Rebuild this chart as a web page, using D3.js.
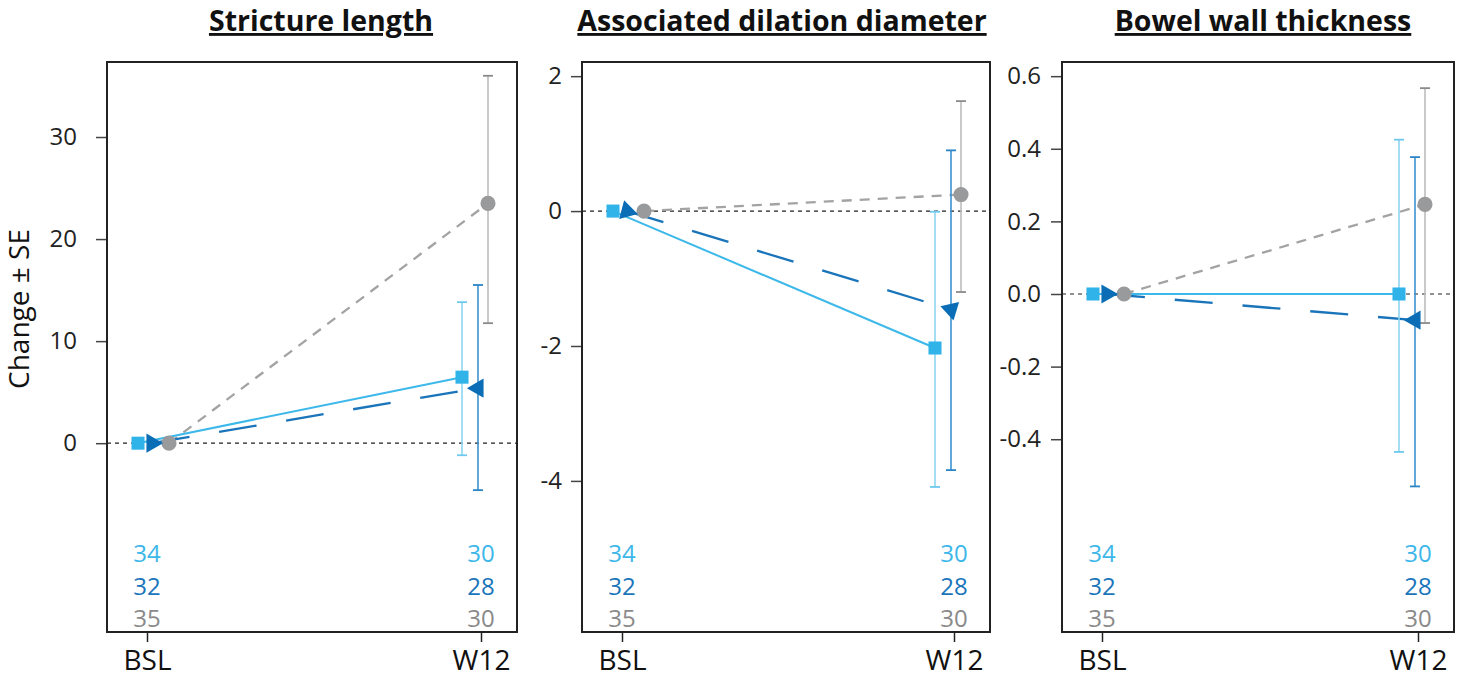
<!DOCTYPE html>
<html><head><meta charset="utf-8">
<script src="https://cdn.jsdelivr.net/npm/d3@7"></script>
<style>body{margin:0;background:#fff} text{font-family:"Open Sans",sans-serif}</style>
</head><body><svg id="c" width="1460" height="686"></svg>
<script>
// ---------- data ----------
const panelTitles = ["Stricture length", "Associated dilation diameter", "Bowel wall thickness"];
const timepoints = ["BSL", "W12"];
const seriesNames = ["Group A", "Group B", "Group C"]; // square, triangle, circle

// rows = series (square, triangle, circle), cols = timepoints (BSL, W12)
const lengthMean = [[0, 6.47], [0, 5.39], [0, 23.5]];
const lengthLow  = [[0, -1.18], [0, -4.6], [0, 11.76]];
const lengthHigh = [[0, 13.82], [0, 15.5], [0, 36.0]];

const dilationMean = [[0, -2.03], [0, -1.46], [0, 0.245]];
const dilationLow  = [[0, -4.09], [0, -3.84], [0, -1.2]];
const dilationHigh = [[0, -0.01], [0, 0.9], [0, 1.63]];

const thicknessMean = [[0, 0.0], [0, -0.072], [0, 0.247]];
const thicknessLow  = [[0, -0.435], [0, -0.53], [0, -0.08]];
const thicknessHigh = [[0, 0.425], [0, 0.377], [0, 0.567]];

const countsBSL = [34, 32, 35];
const countsW12 = [30, 28, 30];

const lengthTicks = [0, 10, 20, 30];
const dilationTicks = [2, 0, -2, -4];
const thicknessTicks = [0.6, 0.4, 0.2, 0.0, -0.2, -0.4];

// ---------- styles / layout ----------
const yDomains = [[-18.5, 37.35], [-6.24, 2.21], [-0.931, 0.639]];
const tickFormats = [d3.format("d"), d3.format("d"), d3.format(".1f")];
const tickPad = [19, 9, 10];
const panelX = [[107, 517], [582, 990], [1062, 1454]];
const titleShift = [9, -4, 5];
const topY = 62, bottomY = 632;
const dodge = [[-9, -19], [5, -3], [22, 7]]; // px per series per timepoint
const triRot = [[90, -90], [-15, 167], [90, -90]];
const markerColor = ["#2fb3e8", "#0a6db5", "#999a9c"];
const lineColor = ["#3db8ea", "#1a74ba", "#a3a3a3"];
const lineDash = [null, "38,30", "10,8"];
const barColor = ["#8dd5f3", "#3b92d0", "#bdbdbd"];
const capColor = ["#6ec9ef", "#2a84c6", "#8a8a8a"];
const countColor = ["#3db7e9", "#1a75bb", "#8a8a8a"];

const means = [lengthMean, dilationMean, thicknessMean];
const lows = [lengthLow, dilationLow, thicknessLow];
const highs = [lengthHigh, dilationHigh, thicknessHigh];
const ticks = [lengthTicks, dilationTicks, thicknessTicks];

const svg = d3.select("#c");

// y-axis title
svg.append("text")
  .attr("transform", "translate(29,309) rotate(-90)")
  .attr("text-anchor", "middle")
  .attr("font-size", 28).attr("fill", "#111")
  .text("Change ± SE");

panelTitles.forEach((title, p) => {
  const [L, R] = panelX[p];
  const g = svg.append("g");
  const y = d3.scaleLinear().domain(yDomains[p]).range([bottomY, topY]);
  const x = d3.scaleLinear().domain([0, 1]).range([L + 40, R - 36]);

  // title
  g.append("text")
    .attr("x", (L + R) / 2 + titleShift[p]).attr("y", 31)
    .attr("text-anchor", "middle")
    .attr("font-size", 28.5).attr("font-weight", "bold")
    .attr("text-decoration", "underline")
    .attr("fill", "#111")
    .text(title);

  // y axis
  const ya = g.append("g").attr("transform", `translate(${L},0)`)
    .call(d3.axisLeft(y).tickValues(ticks[p]).tickSize(11).tickPadding(tickPad[p])
      .tickFormat(d => tickFormats[p](d).replace("\u2212", "-")));
  ya.select(".domain").remove();
  ya.selectAll(".tick line").attr("stroke", "#444").attr("stroke-width", 1.5);
  ya.selectAll(".tick text").attr("font-size", 24).attr("fill", "#222")
    .attr("font-family", "Open Sans, sans-serif");

  // x axis
  const xa = g.append("g").attr("transform", `translate(0,${bottomY})`)
    .call(d3.axisBottom(x).tickValues([0, 1]).tickSize(10).tickPadding(8)
      .tickFormat(i => timepoints[i]));
  xa.select(".domain").remove();
  xa.selectAll(".tick line").attr("stroke", "#222").attr("stroke-width", 1.5);
  xa.selectAll(".tick text").attr("font-size", 28).attr("fill", "#111")
    .attr("font-family", "Open Sans, sans-serif");

  // zero reference line
  g.append("line")
    .attr("x1", L).attr("x2", R).attr("y1", y(0)).attr("y2", y(0))
    .attr("stroke", "#222").attr("stroke-width", 1.2).attr("stroke-dasharray", "4,4");

  const px = (s, t) => x(t) + dodge[s][t];

  // lines (grey first, then dark, then light)
  [2, 1, 0].forEach(s => {
    const line = d3.line().x((v, t) => px(s, t)).y(v => y(v));
    g.append("path").datum(means[p][s])
      .attr("d", line)
      .attr("fill", "none")
      .attr("stroke", lineColor[s])
      .attr("stroke-width", s === 0 ? 2 : 2.3)
      .attr("stroke-dasharray", lineDash[s]);
  });

  // error bars
  [2, 1, 0].forEach(s => {
    timepoints.forEach((tp, t) => {
      const lo = lows[p][s][t], hi = highs[p][s][t];
      if (lo === hi) return;
      const cx = px(s, t);
      g.append("line").attr("x1", cx).attr("x2", cx).attr("y1", y(lo)).attr("y2", y(hi))
        .attr("stroke", barColor[s]).attr("stroke-width", 1.6);
      [lo, hi].forEach(v => {
        g.append("line").attr("x1", cx - 5).attr("x2", cx + 5).attr("y1", y(v)).attr("y2", y(v))
          .attr("stroke", capColor[s]).attr("stroke-width", 1.8);
      });
    });
  });

  // markers
  [2, 1, 0].forEach(s => {
    timepoints.forEach((tp, t) => {
      const cx = px(s, t), cy = y(means[p][s][t]);
      if (s === 0) {
        g.append("path").attr("d", d3.symbol(d3.symbolSquare, 170)())
          .attr("transform", `translate(${cx},${cy})`).attr("fill", markerColor[s]);
      } else if (s === 1) {
        g.append("path").attr("d", d3.symbol(d3.symbolTriangle, 160)())
          .attr("transform", `translate(${cx},${cy}) rotate(${triRot[p][t]})`).attr("fill", markerColor[s]);
      } else {
        g.append("path").attr("d", d3.symbol(d3.symbolCircle, 180)())
          .attr("transform", `translate(${cx},${cy})`).attr("fill", markerColor[s]);
      }
    });
  });

  // counts
  [countsBSL, countsW12].forEach((counts, t) => {
    counts.forEach((n, s) => {
      g.append("text").attr("x", x(t)).attr("y", 562 + s * 32.5)
        .attr("text-anchor", "middle").attr("font-size", 24)
        .attr("fill", countColor[s]).text(n);
    });
  });

  // frame
  g.append("rect").attr("x", L).attr("y", topY).attr("width", R - L).attr("height", bottomY - topY)
    .attr("fill", "none").attr("stroke", "#222").attr("stroke-width", 2);
});
</script></body></html>
